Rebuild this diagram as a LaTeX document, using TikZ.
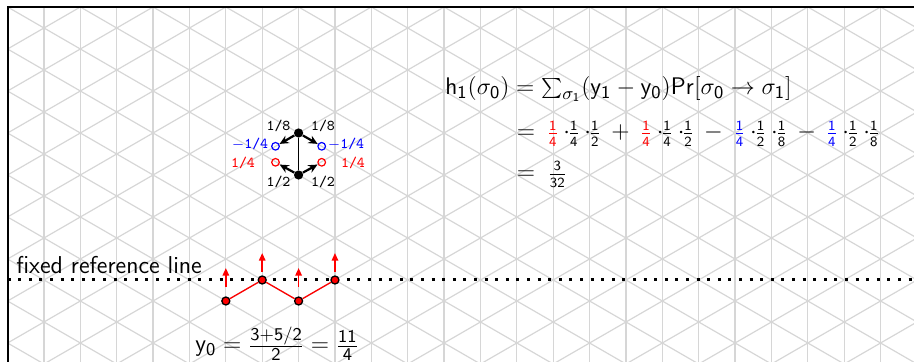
\documentclass[tikz,border=0pt]{standalone}
\usetikzlibrary{arrows.meta}
\newcommand\ffr[2]{{\fontsize{10.7}{12}\selectfont\nulldelimiterspace=0pt$\frac{\mathsf{#1}}{\mathsf{#2}}$}}
\newcommand\pc[2]{\rlap{\hspace{#1pt}\makebox[0pt][c]{#2}}}
\begin{document}
\begin{tikzpicture}[x=0.5pt,y=-0.5pt]
\tikzset{
 gridline/.style={draw=black!16, line width=0.6pt},
 frameline/.style={line width=1pt, line cap=rect},
 bdot/.style={circle, fill=black, inner sep=0pt, minimum size=4.6pt},
 ocirc/.style={circle, draw, line width=0.6pt, inner sep=0pt, minimum size=3.8pt},
 lab/.style={font=\fontsize{7.5}{9}\selectfont\ttfamily, inner sep=0pt},
 flow/.style={-{Stealth[length=4.5pt,width=4.2pt]}, line width=1.1pt, shorten >=0.2pt},
 rdot/.style={circle, fill=red, draw=black, line width=0.65pt, inner sep=0pt, minimum size=4pt},
 rarrow/.style={red, line width=0.8pt, -{Triangle[length=3.8pt,width=3.2pt]}},
 refline/.style={line width=1.5pt, dash pattern=on 1.5pt off 3.8pt},
 txt/.style={font=\fontsize{12.2}{14}\selectfont\sffamily, inner sep=0pt},
 mtxt/.style={font=\fontsize{12.5}{14}\selectfont\sffamily, inner sep=0pt},
}
\useasboundingbox (0,0) rectangle (914,362);
% triangular grid
\begin{scope}
\clip (7.6,7) rectangle (914,362);
\foreach \i in {0,...,25} \draw[gridline] ({7.6+36.373*\i},7) -- ({7.6+36.373*\i},362);
\foreach \k in {-13,...,9} \draw[gridline] (7.6,{7+42*\k}) -- (914,{7+42*\k+523.3});
\foreach \k in {0,...,22} \draw[gridline] (7.6,{7+42*\k}) -- (914,{7+42*\k-523.3});
\end{scope}
% frame
\coordinate (fTR) at (914,7);
\coordinate (fTL) at (7.6,7);
\coordinate (fBL) at (7.6,362);
\draw[frameline] (fTR) -- (fTL) -- (fBL);
% upper diagram
\node[bdot] (t) at (298.6,133) {};
\node[bdot] (b) at (298.6,175) {};
\node[ocirc, draw=blue] (bl) at (275.5,146.3) {};
\node[ocirc, draw=blue] (br) at (321.7,146.3) {};
\node[ocirc, draw=red] (rl) at (275.5,162.3) {};
\node[ocirc, draw=red] (rr) at (321.7,162.3) {};
\draw[line width=0.6pt] (t) -- (b);
\draw[flow] (t) -- (bl);
\draw[flow] (t) -- (br);
\draw[flow] (b) -- (rl);
\draw[flow] (b) -- (rr);
\node[lab] (l8a) at (278.5,126) {1/8};
\node[lab] (l8b) at (323,126) {1/8};
\node[lab, text=blue] (lbl) at (250,144.5) {$-$1/4};
\node[lab, text=blue] (lbr) at (346,144.5) {$-$1/4};
\node[lab, text=red] (lrl) at (243,162.5) {1/4};
\node[lab, text=red] (lrr) at (353,162.5) {1/4};
\node[lab] (l2a) at (278.5,181.7) {1/2};
\node[lab] (l2b) at (323,181.7) {1/2};
% formula
\node[mtxt, anchor=base west, font=\fontsize{12.7}{14}\selectfont] (r1) at (445,95) {$\mathsf{h}_{\mathsf1}(\sigma_{\mathsf0}) = \sum_{\sigma_{\mathsf1}}(\mathsf{y}_{\mathsf1}-\mathsf{y}_{\mathsf0})\mathsf{Pr}[\sigma_{\mathsf0}\to\sigma_{\mathsf1}]$};
\node[mtxt, anchor=base west] (r2) at (517,139) {%
\pc{3.75}{$=$}%
\pc{17.2}{\textcolor{red}{\ffr14}}\pc{24.2}{$\cdot$}\pc{27.7}{\ffr14}\pc{34.7}{$\cdot$}\pc{38.2}{\ffr12}%
\pc{51}{$+$}%
\pc{63.85}{\textcolor{red}{\ffr14}}\pc{70.85}{$\cdot$}\pc{74.35}{\ffr14}\pc{81.35}{$\cdot$}\pc{84.85}{\ffr12}%
\pc{97.5}{$-$}%
\pc{110.55}{\textcolor{blue}{\ffr14}}\pc{117.55}{$\cdot$}\pc{121.05}{\ffr12}\pc{128.05}{$\cdot$}\pc{131.55}{\ffr18}%
\pc{144.2}{$-$}%
\pc{156.7}{\textcolor{blue}{\ffr14}}\pc{163.7}{$\cdot$}\pc{167.2}{\ffr12}\pc{174.2}{$\cdot$}\pc{177.7}{\ffr18}%
};
\node[mtxt, anchor=base west] (r3) at (517,179.5) {\pc{3.75}{$=$}\pc{19.5}{\ffr{3}{32}}};
% reference line
\coordinate (refL) at (7.6,280);
\coordinate (refR) at (914,280);
\draw[refline] (refL) -- (refR);
\node[txt, anchor=base west] (frl) at (16,274) {fixed reference line};
% zigzag
\node[rdot] (z1) at (225.84,301) {};
\node[rdot] (z2) at (262.2,280) {};
\node[rdot] (z3) at (298.6,301) {};
\node[rdot] (z4) at (334.96,280) {};
\draw[red, line width=0.65pt] (z1) -- (z2) -- (z3) -- (z4);
\coordinate (a1s) at (225.84,287); \coordinate (a1e) at (225.84,268);
\coordinate (a2s) at (262.2,272);  \coordinate (a2e) at (262.2,253);
\coordinate (a3s) at (298.6,287);  \coordinate (a3e) at (298.6,268);
\coordinate (a4s) at (334.96,272); \coordinate (a4e) at (334.96,253);
\draw[rarrow] (a1s) -- (a1e);
\draw[rarrow] (a2s) -- (a2e);
\draw[rarrow] (a3s) -- (a3e);
\draw[rarrow] (a4s) -- (a4e);
\node[mtxt, anchor=base west] (y0) at (195,352) {$\mathsf{y}_{\mathsf0}=\frac{\mathsf{3+5/2}}{\mathsf2}=\frac{\mathsf{11}}{\mathsf4}$};
\end{tikzpicture}
\end{document}
